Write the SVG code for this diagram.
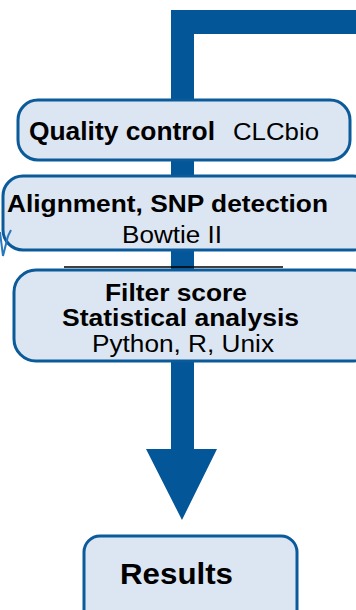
<svg xmlns="http://www.w3.org/2000/svg" width="356" height="610" viewBox="0 0 356 610">
<style>
.box{fill:#dce6f2;stroke:#0b5a99;stroke-width:3}
.b{font-family:"Liberation Sans",Arial,sans-serif;font-weight:bold;fill:#000}
.r{font-family:"Liberation Sans",Arial,sans-serif;fill:#000}
.flow{fill:#035697}
</style>
<rect width="356" height="610" fill="#fff"/>
<g id="connectors">
<path class="flow" d="M171,10 H358 V34 H194 V449 H217 L182,520 L146,449 H171 Z"/>
</g>
<g id="qc">
<rect class="box" x="18" y="100" width="332" height="60" rx="20"/>
<text class="b" x="29" y="140" font-size="25" textLength="186" lengthAdjust="spacingAndGlyphs">Quality control</text>
<text class="r" x="233" y="140" font-size="24" textLength="86" lengthAdjust="spacingAndGlyphs">CLCbio</text>
</g>
<g id="align">
<rect class="box" x="3" y="176" width="370" height="74" rx="20"/>
<text class="b" x="7" y="212" font-size="24" textLength="321" lengthAdjust="spacingAndGlyphs">Alignment, SNP detection</text>
<text class="r" x="122" y="243" font-size="23" textLength="100" lengthAdjust="spacingAndGlyphs">Bowtie II</text>
</g>
<path d="M0,232 L3,256 L8,236 M8,236 L11,230" fill="none" stroke="#2a78bc" stroke-width="2"/>
<line x1="64" y1="267" x2="283" y2="267" stroke="#000" stroke-width="1.5"/>
<g id="filter">
<rect class="box" x="14" y="270" width="360" height="91" rx="22"/>
<text class="b" x="105" y="301" font-size="23" textLength="142" lengthAdjust="spacingAndGlyphs">Filter score</text>
<text class="b" x="62" y="326" font-size="23" textLength="237" lengthAdjust="spacingAndGlyphs">Statistical analysis</text>
<text class="r" x="92" y="352" font-size="23" textLength="182" lengthAdjust="spacingAndGlyphs">Python, R, Unix</text>
</g>
<g id="results">
<rect class="box" x="84" y="536" width="213" height="90" rx="16"/>
<text class="b" x="120" y="584" font-size="30" textLength="113" lengthAdjust="spacingAndGlyphs">Results</text>
</g>
</svg>
